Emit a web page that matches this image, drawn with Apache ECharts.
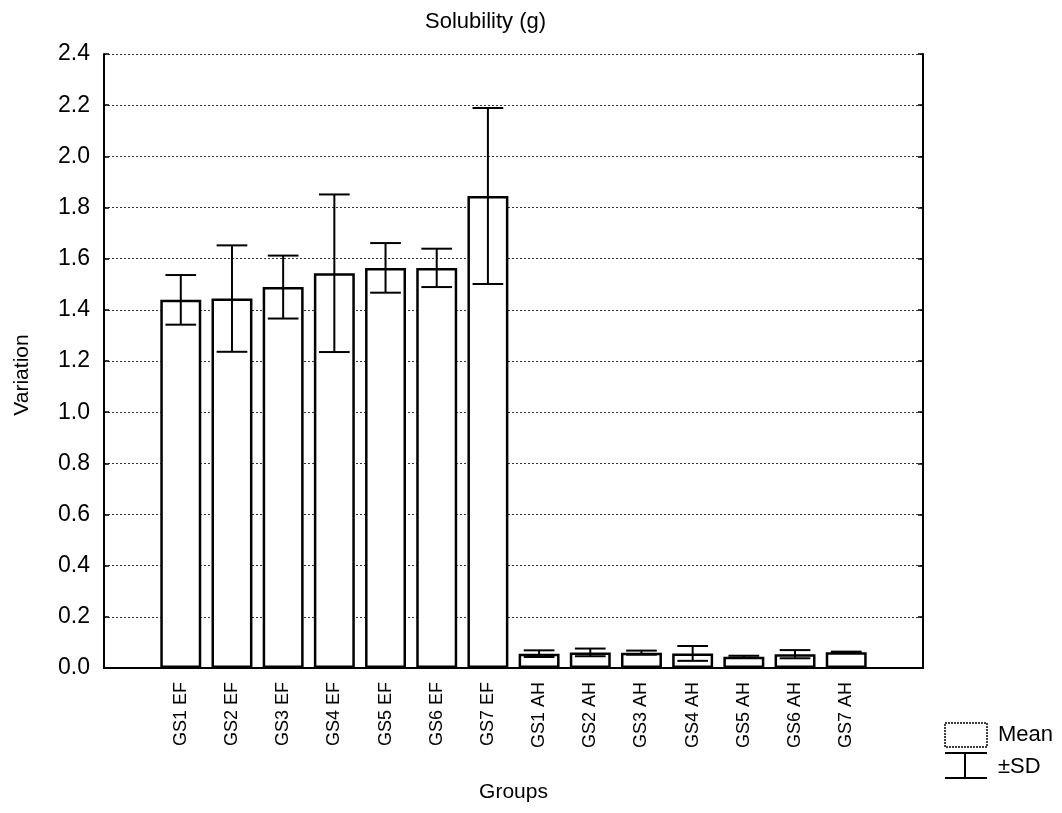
<!DOCTYPE html>
<html>
<head>
<meta charset="utf-8">
<script src="https://cdn.jsdelivr.net/npm/echarts@6/dist/echarts.min.js"></script>
<style>
  html, body { margin: 0; padding: 0; background: #fff; }
  #main { width: 1062px; height: 813px; }
</style>
</head>
<body>
<div id="main"></div>
<script>
// groups (first and last slot on the axis are left empty, as in the original plot)
var groups = ['GS1 EF', 'GS2 EF', 'GS3 EF', 'GS4 EF', 'GS5 EF', 'GS6 EF', 'GS7 EF',
              'GS1 AH', 'GS2 AH', 'GS3 AH', 'GS4 AH', 'GS5 AH', 'GS6 AH', 'GS7 AH'];
var means = [1.439, 1.444, 1.489, 1.543, 1.564, 1.564, 1.845,
             0.056, 0.061, 0.060, 0.057, 0.044, 0.054, 0.062];
var sds = [0.097, 0.208, 0.123, 0.308, 0.097, 0.075, 0.344,
           0.013, 0.015, 0.008, 0.029, 0.004, 0.016, 0.002];
var yTicks = [0, 0.2, 0.4, 0.6, 0.8, 1.0, 1.2, 1.4, 1.6, 1.8, 2.0, 2.2, 2.4];

var font = '"Liberation Sans", Arial, sans-serif';

var categories = [' '].concat(groups, ['  ']);
var barData = [null].concat(means, [null]);
var errData = [];
for (var i = 0; i < groups.length; i++) {
    errData.push([i + 1, means[i] - sds[i], means[i] + sds[i]]);
}

var myChart = echarts.init(document.getElementById('main'));

var option = {
    backgroundColor: '#fff',
    animation: false,
    title: {
        text: 'Solubility (g)',
        left: 420,
        top: 6,
        textStyle: { fontFamily: font, fontSize: 22, fontWeight: 'normal', color: '#000' }
    },
    grid: { left: 104, top: 54, right: 139, bottom: 145 },
    xAxis: [
        {
            type: 'category',
            data: categories,
            position: 'bottom',
            name: 'Groups',
            nameLocation: 'middle',
            nameGap: 114,
            nameTextStyle: { fontFamily: font, fontSize: 21, color: '#000' },
            axisLine: { lineStyle: { color: '#000', width: 2 } },
            axisTick: { inside: true, alignWithLabel: true, interval: 0, length: 5, lineStyle: { color: '#000', width: 1.5 } },
            axisLabel: { interval: 0, rotate: 90, margin: 14, fontFamily: font, fontSize: 18, color: '#000' }
        },
        {
            type: 'category',
            data: categories,
            position: 'top',
            axisLine: { lineStyle: { color: '#000', width: 2 } },
            axisTick: { inside: true, alignWithLabel: true, interval: 0, length: 5, lineStyle: { color: '#000', width: 1.5 } },
            axisLabel: { show: false }
        }
    ],
    yAxis: [
        {
            type: 'value',
            min: 0,
            max: 2.4,
            interval: 0.2,
            axisLine: { show: true, lineStyle: { color: '#000', width: 2 } },
            axisTick: { show: true, inside: true, length: 5, lineStyle: { color: '#000', width: 1.5 } },
            axisLabel: {
                margin: 14, fontFamily: font, fontSize: 23, color: '#000',
                formatter: function (v) { return v.toFixed(1); }
            },
            splitLine: { show: true, lineStyle: { color: '#333', width: 1, type: [2, 2] } }
        },
        {
            type: 'value',
            min: 0,
            max: 2.4,
            interval: 0.2,
            position: 'right',
            axisLine: { show: true, lineStyle: { color: '#000', width: 2 } },
            axisTick: { show: true, inside: true, length: 5, lineStyle: { color: '#000', width: 1.5 } },
            axisLabel: { show: false },
            splitLine: { show: false }
        }
    ],
    series: [
        {
            name: 'Mean',
            type: 'bar',
            data: barData,
            barWidth: '80%',
            itemStyle: { color: '#fff', borderColor: '#000', borderWidth: 2.5 }
        },
        {
            name: '±SD',
            type: 'custom',
            data: errData,
            z: 5,
            renderItem: function (params, api) {
                var x = api.value(0);
                var lo = api.coord([x, api.value(1)]);
                var hi = api.coord([x, api.value(2)]);
                var half = api.size([1, 0])[0] * 0.3;
                var style = { stroke: '#000', lineWidth: 2, fill: null };
                return {
                    type: 'group',
                    children: [
                        { type: 'line', shape: { x1: hi[0], y1: hi[1], x2: lo[0], y2: lo[1] }, style: style },
                        { type: 'line', shape: { x1: hi[0] - half, y1: hi[1], x2: hi[0] + half, y2: hi[1] }, style: style },
                        { type: 'line', shape: { x1: lo[0] - half, y1: lo[1], x2: lo[0] + half, y2: lo[1] }, style: style }
                    ]
                };
            }
        }
    ],
    graphic: [
        { type: 'text', x: 22, y: 375, rotation: Math.PI / 2,
          style: { text: 'Variation', font: '21px ' + font, fill: '#000', align: 'center', verticalAlign: 'middle' } },
        { type: 'rect', shape: { x: 945, y: 723, width: 42, height: 24 }, style: { fill: '#fff', stroke: '#000', lineWidth: 1.5, lineDash: [2, 1] } },
        { type: 'text', left: 998, top: 724, style: { text: 'Mean', font: '22px ' + font, fill: '#000' } },
        { type: 'line', shape: { x1: 945, y1: 753, x2: 987, y2: 753 }, style: { stroke: '#000', lineWidth: 2 } },
        { type: 'line', shape: { x1: 965, y1: 753, x2: 965, y2: 778 }, style: { stroke: '#000', lineWidth: 2 } },
        { type: 'line', shape: { x1: 945, y1: 778, x2: 987, y2: 778 }, style: { stroke: '#000', lineWidth: 2 } },
        { type: 'text', left: 998, top: 756, style: { text: '±SD', font: '22px ' + font, fill: '#000' } }
    ]
};

myChart.setOption(option);
</script>
</body>
</html>
